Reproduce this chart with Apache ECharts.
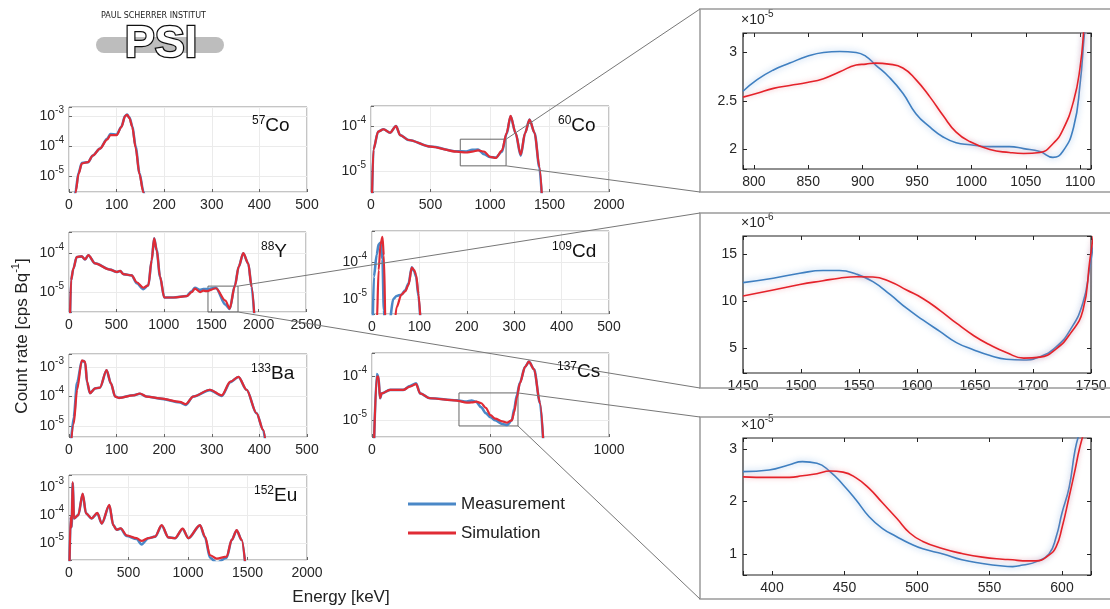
<!DOCTYPE html>
<html>
<head>
<meta charset="utf-8">
<script src="https://cdn.jsdelivr.net/npm/echarts@6/dist/echarts.min.js"></script>
<style>
html, body { margin: 0; padding: 0; background: #fff; }
#chart { width: 1110px; height: 609px; }
</style>
</head>
<body>
<div id="chart"></div>
<script>
// ---- spectra, overview panels (cps/Bq vs keV) ----
const co57E    = [10, 14, 20, 27, 40, 50, 65, 80, 87, 100, 110, 118, 122, 127, 133, 140, 148, 156, 162];
const co57Sim  = [1e-6, 3e-6, 1.2e-5, 2.7e-5, 3.0e-5, 5e-5, 8.5e-5, 1.7e-4, 2.4e-4, 2.4e-4, 4.5e-4, 1.05e-3, 1.15e-3, 9e-4, 4.5e-4, 9e-5, 1.2e-5, 3e-6, 1e-6];
const co57Meas = [1e-6, 3.4e-6, 1.3e-5, 2.8e-5, 3.0e-5, 5e-5, 8.5e-5, 1.8e-4, 2.6e-4, 2.5e-4, 4.6e-4, 1.07e-3, 1.18e-3, 9.3e-4, 4.8e-4, 9.8e-5, 1.3e-5, 3.3e-6, 1e-6];

const co60E    = [5, 20, 60, 105, 160, 210, 245, 315, 500, 720, 800, 850, 900, 950, 1000, 1050, 1100, 1140, 1173, 1215, 1258, 1295, 1332, 1375, 1415, 1445];
const co60Sim  = [1e-6, 3e-5, 7.5e-5, 8.5e-5, 7.1e-5, 1e-4, 6.3e-5, 4.9e-5, 3.5e-5, 2.7e-5, 2.58e-5, 2.69e-5, 2.88e-5, 2.71e-5, 2.07e-5, 1.96e-5, 2.85e-5, 7e-5, 1.7e-4, 7e-5, 2.3e-5, 7e-5, 1.4e-4, 7e-5, 1.25e-5, 1e-6];
const co60Meas = [1e-6, 3e-5, 7.5e-5, 8.5e-5, 7.1e-5, 1e-4, 6.3e-5, 4.9e-5, 3.5e-5, 2.75e-5, 2.72e-5, 2.96e-5, 2.99e-5, 2.35e-5, 2.05e-5, 2.0e-5, 2.68e-5, 6.8e-5, 1.65e-4, 7e-5, 2.2e-5, 7e-5, 1.4e-4, 7e-5, 1.2e-5, 1e-6];

const y88E    = [8, 21, 46, 81, 134, 169, 204, 274, 432, 503, 540, 573, 661, 714, 784, 837, 872, 898, 925, 960, 1005, 1100, 1241, 1294, 1329, 1382, 1417, 1450, 1550, 1650, 1695, 1750, 1790, 1838, 1891, 1926, 1965];
const y88Sim  = [1e-6, 2e-5, 4e-5, 8e-5, 8.3e-5, 6.9e-5, 8.9e-5, 5.5e-5, 3.8e-5, 3.3e-5, 3.5e-5, 2.9e-5, 2.7e-5, 1.8e-5, 1.3e-5, 1.5e-5, 6.6e-5, 2.4e-4, 1.2e-4, 2.5e-5, 7.3e-6, 7.3e-6, 7.9e-6, 1e-5, 1.24e-5, 1e-5, 1.1e-5, 1.06e-5, 1.26e-5, 6.1e-6, 3.8e-6, 1.45e-5, 4.5e-5, 1e-4, 5.4e-5, 1.4e-5, 1e-6];
const y88Meas = [1e-6, 2e-5, 4e-5, 8e-5, 8.3e-5, 6.9e-5, 8.9e-5, 5.5e-5, 3.8e-5, 3.3e-5, 3.5e-5, 2.9e-5, 2.7e-5, 1.7e-5, 1.2e-5, 1.5e-5, 6.6e-5, 2.4e-4, 1.2e-4, 2.5e-5, 7.3e-6, 7.3e-6, 8e-6, 1.05e-5, 1.3e-5, 1.15e-5, 1.2e-5, 1.2e-5, 1.29e-5, 4.8e-6, 3.7e-6, 1.5e-5, 4.5e-5, 1e-4, 5.4e-5, 1.4e-5, 1e-6];

const cd109E    = [1, 4, 10, 14, 18, 22, 25, 29, 36, 45, 52, 62, 70, 77, 84, 89, 93, 98, 104];
const cd109Sim  = [1e-6, 1e-6, 2e-6, 6e-5, 3e-4, 4.8e-4, 1.5e-4, 1e-6, 1e-6, 1e-6, 6e-6, 1.3e-5, 1.6e-5, 2.4e-5, 7e-5, 6e-5, 4.5e-5, 1.4e-5, 1e-6];
const cd109Meas = [1e-6, 4e-5, 1.6e-4, 3e-4, 3.3e-4, 1.2e-4, 5e-6, 1e-6, 2e-6, 1e-5, 1.2e-5, 1.3e-5, 1.7e-5, 2.6e-5, 7.2e-5, 5.6e-5, 4e-5, 1.2e-5, 1e-6];

const ba133E    = [2, 10, 17, 27, 31, 34, 38, 44, 55, 65, 79, 88, 97, 105, 135, 149, 163, 191, 233, 245, 261, 296, 321, 339, 356, 373, 394, 408, 416];
const ba133Sim  = [1e-6, 1.2e-5, 1.7e-4, 1.7e-3, 1.6e-3, 1.5e-3, 3.2e-4, 1.3e-4, 1.9e-4, 2e-4, 8e-4, 2.8e-4, 1e-4, 9e-5, 1.1e-4, 1.27e-4, 1e-4, 8.7e-5, 6.6e-5, 5.5e-5, 1e-4, 1.7e-4, 1.1e-4, 3.2e-4, 4.7e-4, 1.7e-4, 2.7e-5, 7.3e-6, 1e-6];
const ba133Meas = [1e-6, 2e-5, 3e-4, 1.6e-3, 1.6e-3, 1.4e-3, 3e-4, 1.3e-4, 1.9e-4, 2e-4, 7.8e-4, 2.8e-4, 1e-4, 9e-5, 1.1e-4, 1.25e-4, 1e-4, 8.5e-5, 6.3e-5, 5.2e-5, 1e-4, 1.65e-4, 1.05e-4, 3.1e-4, 4.6e-4, 1.7e-4, 2.7e-5, 7.3e-6, 1e-6];

const cs137E    = [6, 20, 27, 34, 41, 76, 132, 160, 186, 203, 245, 357, 400, 420, 440, 460, 480, 500, 520, 550, 570, 590, 600, 611, 624, 646, 662, 684, 709, 728];
const cs137Sim  = [1e-6, 9.6e-5, 9.6e-5, 3.1e-5, 4e-5, 4.8e-5, 4.8e-5, 5.7e-5, 6.5e-5, 4e-5, 3.1e-5, 2.75e-5, 2.46e-5, 2.5e-5, 2.59e-5, 2.42e-5, 1.87e-5, 1.28e-5, 1.07e-5, 0.93e-5, 0.87e-5, 0.98e-5, 1.5e-5, 3.2e-5, 6.8e-5, 1.6e-4, 2.1e-4, 1.4e-4, 2.4e-5, 1e-6];
const cs137Meas = [1e-6, 1.1e-4, 9.6e-5, 3.1e-5, 4e-5, 4.8e-5, 4.8e-5, 5.9e-5, 6.8e-5, 4e-5, 3.1e-5, 2.8e-5, 2.6e-5, 2.75e-5, 2.57e-5, 1.95e-5, 1.43e-5, 1.15e-5, 0.98e-5, 0.81e-5, 0.77e-5, 0.98e-5, 1.78e-5, 3.6e-5, 7e-5, 1.6e-4, 2.1e-4, 1.4e-4, 2.4e-5, 1e-6];

const eu152E    = [3, 14, 22, 31, 42, 78, 115, 143, 190, 238, 275, 339, 372, 400, 434, 484, 568, 610, 666, 723, 779, 835, 891, 955, 1003, 1101, 1143, 1185, 1241, 1325, 1367, 1409, 1451, 1487];
const eu152Sim  = [1e-6, 8.7e-5, 3.7e-5, 1.5e-3, 7.6e-5, 1e-4, 5.9e-4, 1.15e-4, 7.6e-5, 1.2e-4, 5e-5, 2.3e-4, 4.4e-5, 3e-5, 3.4e-5, 1.9e-5, 1.5e-5, 1.2e-5, 1.5e-5, 1.7e-5, 4.4e-5, 1.6e-5, 1.5e-5, 3.3e-5, 1.5e-5, 4.4e-5, 1.7e-5, 3.7e-6, 2.8e-6, 3.3e-6, 1.3e-5, 2.9e-5, 1.3e-5, 1e-6];
const eu152Meas = [1e-6, 8.7e-5, 3.7e-5, 1.4e-3, 7.6e-5, 1e-4, 5.7e-4, 1.15e-4, 7.6e-5, 1.15e-4, 5e-5, 2.2e-4, 4.4e-5, 3e-5, 3.3e-5, 1.8e-5, 1.4e-5, 9e-6, 1.5e-5, 1.7e-5, 4.2e-5, 1.6e-5, 1.5e-5, 3.2e-5, 1.5e-5, 4.3e-5, 1.6e-5, 3e-6, 2e-6, 3e-6, 1.3e-5, 2.8e-5, 1.3e-5, 1e-6];

// ---- zoomed regions (values in units of the axis multiplier) ----
const co60ZoomE    = [790, 803, 818, 833, 849, 864, 879, 894, 903, 912, 924, 937, 949, 962, 974, 986, 999, 1017, 1035, 1048, 1063, 1075, 1084, 1094, 1100, 1104, 1108];
const co60ZoomMeas = [2.6, 2.72, 2.82, 2.89, 2.96, 3.0, 3.01, 3.0, 2.96, 2.87, 2.75, 2.58, 2.37, 2.23, 2.13, 2.07, 2.05, 2.03, 2.03, 2.01, 1.98, 1.92, 1.98, 2.23, 2.68, 3.2, 3.6];
const co60ZoomSim  = [2.54, 2.58, 2.63, 2.66, 2.69, 2.73, 2.8, 2.87, 2.88, 2.89, 2.88, 2.84, 2.72, 2.54, 2.35, 2.18, 2.08, 2.0, 1.97, 1.96, 1.97, 2.06, 2.2, 2.5, 2.85, 3.3, 3.7];

const y88ZoomE    = [1450, 1476, 1499, 1519, 1533, 1548, 1562, 1577, 1591, 1605, 1620, 1634, 1649, 1663, 1677, 1692, 1706, 1720, 1732, 1743, 1749, 1752];
const y88ZoomMeas = [12.0, 12.47, 13.0, 13.3, 13.3, 12.9, 12.1, 10.7, 9.25, 8.0, 6.74, 5.56, 4.78, 4.17, 3.78, 3.7, 4.05, 5.1, 6.9, 9.8, 13.7, 16];
const y88ZoomSim  = [10.57, 11.2, 11.8, 12.2, 12.47, 12.62, 12.6, 12.1, 11.2, 10.3, 9.0, 7.64, 6.3, 5.3, 4.5, 3.9, 4.0, 4.9, 6.5, 9.0, 14.4, 17];

const cs137ZoomE    = [380, 398, 412, 421, 431, 440, 449, 458, 467, 476, 486, 495, 504, 518, 531, 545, 559, 566, 573, 582, 591, 596, 600, 605, 609, 612, 616];
const cs137ZoomMeas = [2.57, 2.6, 2.7, 2.76, 2.73, 2.57, 2.32, 2.03, 1.71, 1.49, 1.33, 1.2, 1.1, 1.0, 0.89, 0.82, 0.77, 0.76, 0.79, 0.85, 1.0, 1.33, 1.78, 2.28, 2.98, 3.3, 3.6];
const cs137ZoomSim  = [2.47, 2.46, 2.46, 2.49, 2.53, 2.58, 2.56, 2.45, 2.25, 1.98, 1.68, 1.4, 1.24, 1.1, 1.01, 0.94, 0.9, 0.89, 0.87, 0.87, 0.98, 1.14, 1.5, 2.1, 2.6, 3.0, 3.4];

// zoom windows marked in the overview panels: [E0, E1, y0, y1]
const co60Box  = [750, 1135, 1.3e-5, 5.1e-5];
const y88Box   = [1466, 1783, 3.1e-6, 1.43e-5];
const cs137Box = [367, 616, 7.3e-6, 4.1e-5];

const FONT = 'Liberation Sans, Arial, sans-serif';
const BLUE = '#4a88c7';
const RED = '#e02b35';
const supRich = { s: { fontSize: 10, padding: [0, 0, 12, 0], fontFamily: FONT, color: '#262626' } };

const panels = [
  { iso: '57',  el: 'Co', E: co57E,  meas: co57Meas,  sim: co57Sim,  xMax: 500,  xStep: 100, yMin: 3e-6,   yMax: 2.1e-3, box: [69, 107, 238, 85],  tag: [252, 115] },
  { iso: '60',  el: 'Co', E: co60E,  meas: co60Meas,  sim: co60Sim,  xMax: 2000, xStep: 500, yMin: 3.4e-6, yMax: 2.8e-4, box: [371, 106, 238, 86], tag: [558, 115] },
  { iso: '88',  el: 'Y',  E: y88E,   meas: y88Meas,   sim: y88Sim,   xMax: 2500, xStep: 500, yMin: 3.1e-6, yMax: 3.5e-4, box: [69, 232, 237, 80],  tag: [261, 241] },
  { iso: '109', el: 'Cd', E: cd109E, meas: cd109Meas, sim: cd109Sim, xMax: 500,  xStep: 100, yMin: 3.9e-6, yMax: 6.9e-4, box: [372, 231, 237, 83], tag: [552, 241] },
  { iso: '133', el: 'Ba', E: ba133E, meas: ba133Meas, sim: ba133Sim, xMax: 500,  xStep: 100, yMin: 4.2e-6, yMax: 2.8e-3, box: [69, 354, 238, 83],  tag: [251, 363] },
  { iso: '137', el: 'Cs', E: cs137E, meas: cs137Meas, sim: cs137Sim, xMax: 1000, xStep: 500, yMin: 4.1e-6, yMax: 3.3e-4, box: [372, 353, 237, 84], tag: [557, 361] },
  { iso: '152', el: 'Eu', E: eu152E, meas: eu152Meas, sim: eu152Sim, xMax: 2000, xStep: 500, yMin: 2.5e-6, yMax: 2.7e-3, box: [69, 475, 238, 85],  tag: [254, 485] }
];

const zooms = [
  { E: co60ZoomE,  meas: co60ZoomMeas,  sim: co60ZoomSim,  xMin: 790,  xMax: 1110, xStep: 50, yMin: 1.8, yMax: 3.2,  yStep: 0.5, exp: -5, box: [743, 33, 348, 136],  frame: [700, 9, 430, 183],   src: 1, area: co60Box },
  { E: y88ZoomE,   meas: y88ZoomMeas,   sim: y88ZoomSim,   xMin: 1450, xMax: 1750, xStep: 50, yMin: 2.3, yMax: 17,   yStep: 5,   exp: -6, box: [743, 236, 348, 137], frame: [700, 213, 430, 175], src: 2, area: y88Box },
  { E: cs137ZoomE, meas: cs137ZoomMeas, sim: cs137ZoomSim, xMin: 380,  xMax: 620,  xStep: 50, yMin: 0.6, yMax: 3.21, yStep: 1,   exp: -5, box: [743, 438, 348, 137], frame: [700, 417, 430, 182], src: 5, area: cs137Box }
];

function logLabel(v) {
  const e = Math.log10(v), r = Math.round(e);
  if (Math.abs(e - r) > 1e-6) return '';
  return '10{s|' + r + '}';
}
function stepLabel(step) {
  return function (v) {
    const k = v / step;
    return Math.abs(k - Math.round(k)) < 1e-6 ? String(+v.toFixed(2)) : '';
  };
}
function pairs(E, vals) { return E.map((e, k) => [e, vals[k]]); }

const grids = [], xAxes = [], yAxes = [], series = [], titles = [];
const tickStyle = { inside: true, length: 3, lineStyle: { color: '#666' } };
const labelStyle = { fontSize: 14, color: '#262626', fontFamily: FONT };

panels.forEach((p, i) => {
  grids.push({ left: p.box[0], top: p.box[1], width: p.box[2], height: p.box[3], show: true, borderColor: '#8a8a8a', borderWidth: 1, outerBoundsMode: 'none' });
  xAxes.push({ gridIndex: i, type: 'value', min: 0, max: p.xMax, interval: p.xStep,
    axisLine: { show: false }, axisTick: tickStyle,
    splitLine: { show: true, lineStyle: { color: '#ebebeb' } },
    axisLabel: Object.assign({ margin: 6, formatter: v => String(v) }, labelStyle) });
  yAxes.push({ gridIndex: i, type: 'log', logBase: 10, min: p.yMin, max: p.yMax,
    axisLine: { show: false }, axisTick: tickStyle,
    splitLine: { show: true, lineStyle: { color: '#ebebeb' } },
    axisLabel: Object.assign({ margin: 5, formatter: logLabel, rich: supRich }, labelStyle) });
  const common = { type: 'line', xAxisIndex: i, yAxisIndex: i, showSymbol: false, symbol: 'none', smooth: 0.3, smoothMonotone: 'x', animation: false };
  series.push(Object.assign({ name: 'Measurement', data: pairs(p.E, p.meas), lineStyle: { color: BLUE, width: 2.6 }, itemStyle: { color: BLUE } }, common));
  const sim = Object.assign({ name: 'Simulation', data: pairs(p.E, p.sim), lineStyle: { color: RED, width: 2.2 }, itemStyle: { color: RED } }, common);
  const z = zooms.find(zz => zz.src === i);
  if (z) {
    sim.markArea = { silent: true, itemStyle: { color: 'rgba(0,0,0,0)', borderColor: '#666', borderWidth: 1 },
      data: [[{ coord: [z.area[0], z.area[2]] }, { coord: [z.area[1], z.area[3]] }]] };
  }
  series.push(sim);
  titles.push({ text: '{s|' + p.iso + '}{b|' + p.el + '}', left: p.tag[0], top: p.tag[1], padding: 0,
    textStyle: { fontWeight: 'normal', rich: { s: { fontSize: 12, padding: [0, 0, 10, 0], fontFamily: FONT, color: '#111' }, b: { fontSize: 19, fontFamily: FONT, color: '#111' } } } });
});

const zoomTick = { inside: true, length: 4, lineStyle: { color: '#222' } };
zooms.forEach((z, j) => {
  const i = panels.length + j;
  grids.push({ left: z.box[0], top: z.box[1], width: z.box[2], height: z.box[3], show: true, borderColor: '#222', borderWidth: 1.2, outerBoundsMode: 'none' });
  xAxes.push({ gridIndex: i, type: 'value', min: z.xMin, max: z.xMax, minInterval: z.xStep, maxInterval: z.xStep,
    axisLine: { show: false }, axisTick: zoomTick, splitLine: { show: false },
    axisLabel: Object.assign({ margin: 6, formatter: stepLabel(z.xStep), showMinLabel: true, showMaxLabel: true }, labelStyle) });
  yAxes.push({ gridIndex: i, type: 'value', min: z.yMin, max: z.yMax, minInterval: z.yStep, maxInterval: z.yStep,
    axisLine: { show: false }, axisTick: zoomTick, splitLine: { show: false },
    axisLabel: Object.assign({ margin: 6, formatter: stepLabel(z.yStep) }, labelStyle),
    name: '×10{s|' + z.exp + '}', nameLocation: 'end', nameGap: 2,
    nameTextStyle: { align: 'left', verticalAlign: 'bottom', fontSize: 14, color: '#262626', fontFamily: FONT, padding: [0, 0, 0, -2], rich: supRich } });
  const common = { type: 'line', xAxisIndex: i, yAxisIndex: i, showSymbol: false, symbol: 'none', smooth: 0.5, animation: false };
  series.push(Object.assign({ name: 'Measurement', data: pairs(z.E, z.meas),
    lineStyle: { color: '#3f7fc0', width: 1.6, shadowColor: 'rgba(120,170,225,0.8)', shadowBlur: 6 }, itemStyle: { color: BLUE } }, common));
  series.push(Object.assign({ name: 'Simulation', data: pairs(z.E, z.sim),
    lineStyle: { color: '#e4222a', width: 1.6, shadowColor: 'rgba(240,140,150,0.7)', shadowBlur: 5 }, itemStyle: { color: RED } }, common));
});

// mirrored inner ticks on the top and right edges of the zoom panels
zooms.forEach((z, j) => {
  const i = panels.length + j;
  xAxes.push({ gridIndex: i, type: 'value', position: 'top', min: z.xMin, max: z.xMax, minInterval: z.xStep, maxInterval: z.xStep,
    axisLine: { show: false }, axisTick: zoomTick, axisLabel: { show: false }, splitLine: { show: false } });
  yAxes.push({ gridIndex: i, type: 'value', position: 'right', min: z.yMin, max: z.yMax, minInterval: z.yStep, maxInterval: z.yStep,
    axisLine: { show: false }, axisTick: zoomTick, axisLabel: { show: false }, splitLine: { show: false } });
});

const chart = echarts.init(document.getElementById('chart'));
chart.setOption({
  backgroundColor: '#fff',
  animation: false,
  title: titles,
  grid: grids,
  xAxis: xAxes,
  yAxis: yAxes,
  legend: {
    data: [{ name: 'Measurement', itemStyle: { color: BLUE } }, { name: 'Simulation', itemStyle: { color: RED } }],
    orient: 'vertical', left: 403, top: 489, icon: 'rect',
    itemWidth: 48, itemHeight: 3, itemGap: 9,
    textStyle: { fontSize: 17, color: '#222', fontFamily: FONT, lineHeight: 20 }
  },
  series: series
});

// static decorations plus connector lines from the marked boxes to the zoom frames
const graphics = [
  { type: 'text', left: 101, top: 12, style: { text: 'PAUL SCHERRER INSTITUT', font: '8px DejaVu Sans', fill: '#222' } },
  { type: 'rect', shape: { x: 96, y: 37, width: 128, height: 16, r: 8 }, style: { fill: '#bdbdbd' } },
  { type: 'text', x: 161, y: 45, style: { text: 'PSI', font: 'bold 45px Liberation Sans', fill: '#fff', stroke: '#111', lineWidth: 2.5, align: 'center', verticalAlign: 'middle' } },
  { type: 'text', x: 22, y: 336, rotation: Math.PI / 2,
    style: { text: '{a|Count rate [cps Bq}{s|-1}{a|]}', align: 'center', verticalAlign: 'middle',
      rich: { a: { fontSize: 17, fontFamily: FONT, fill: '#222' }, s: { fontSize: 11, fontFamily: FONT, fill: '#222', padding: [0, 0, 12, 0] } } } },
  { type: 'text', x: 341, y: 597, style: { text: 'Energy [keV]', font: '17px Liberation Sans', fill: '#222', align: 'center', verticalAlign: 'middle' } }
];
zooms.forEach(z => {
  graphics.push({ type: 'rect', shape: { x: z.frame[0], y: z.frame[1], width: z.frame[2], height: z.frame[3] },
    style: { fill: 'none', stroke: '#9a9a9a', lineWidth: 1.5 }, z: 5 });
  const finder = { xAxisIndex: z.src, yAxisIndex: z.src };
  const tr = chart.convertToPixel(finder, [z.area[1], z.area[3]]);
  const br = chart.convertToPixel(finder, [z.area[1], z.area[2]]);
  graphics.push({ type: 'line', shape: { x1: tr[0], y1: tr[1], x2: z.frame[0], y2: z.frame[1] }, style: { stroke: '#777', lineWidth: 1 }, z: 5 });
  graphics.push({ type: 'line', shape: { x1: br[0], y1: br[1], x2: z.frame[0], y2: z.frame[1] + z.frame[3] }, style: { stroke: '#777', lineWidth: 1 }, z: 5 });
});
chart.setOption({ graphic: graphics });
</script>
</body>
</html>
